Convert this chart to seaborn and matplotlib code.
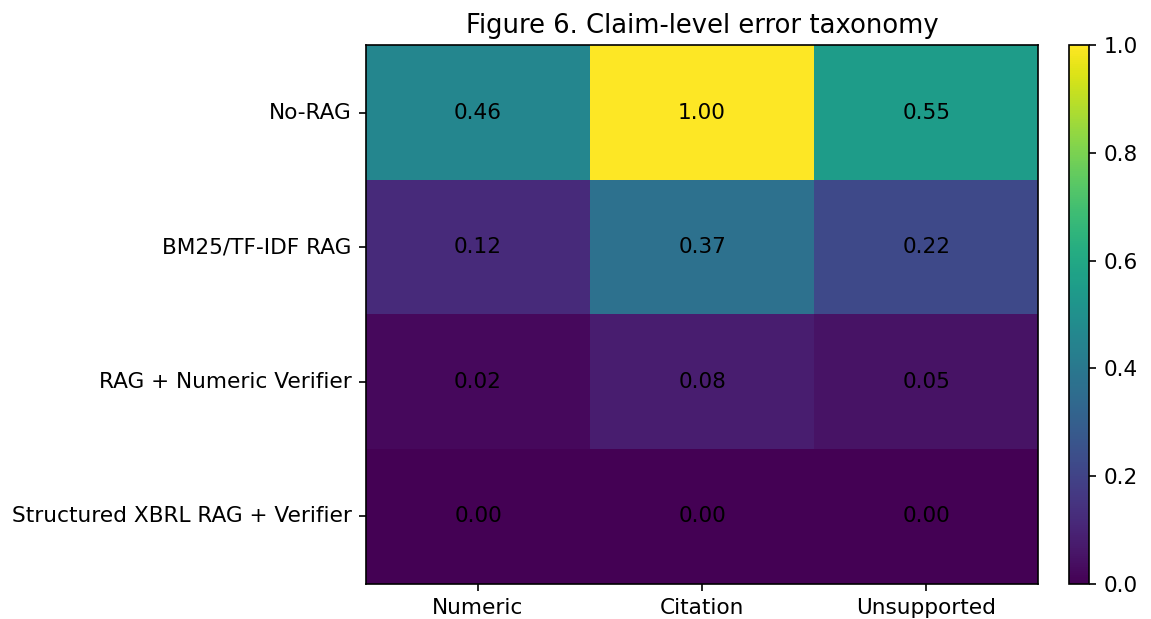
import numpy as np
import pandas as pd
import matplotlib
matplotlib.use("Agg")
import matplotlib.pyplot as plt
import seaborn as sns

systems = ["No-RAG", "BM25/TF-IDF RAG", "RAG + Numeric Verifier",
           "Structured XBRL RAG + Verifier"]
error_types = ["Numeric", "Citation", "Unsupported"]
numeric = [0.46, 0.12, 0.02, 0.00]
citation = [1.00, 0.37, 0.08, 0.00]
unsupported = [0.55, 0.22, 0.05, 0.00]

df = pd.DataFrame({"Numeric": numeric, "Citation": citation,
                   "Unsupported": unsupported}, index=systems)[error_types]

FS = 10.4

fig = plt.figure(figsize=(1151 / 150, 619 / 150), dpi=150)
ax = fig.add_axes([0.318, 0.057, 0.584, 0.870])
cax = fig.add_axes([0.929, 0.057, 0.0174, 0.870])

sns.heatmap(df, ax=ax, cbar_ax=cax, cmap="viridis", vmin=0, vmax=1,
            annot=True, fmt=".2f", annot_kws={"color": "black", "fontsize": FS})

ax.set_title("Figure 6. Claim-level error taxonomy", fontsize=12.45)
ax.set_xlabel("")
ax.set_ylabel("")
ax.tick_params(axis="both", length=3.5, width=0.8, labelsize=FS)
ax.set_yticklabels(systems, rotation=0)
ax.set_xticklabels(error_types, rotation=0)
for sp in ax.spines.values():
    sp.set_visible(True)
    sp.set_linewidth(0.8)
    sp.set_color("black")

cb = ax.collections[0].colorbar
cb.outline.set_linewidth(0.8)
cb.outline.set_visible(True)
cb.set_ticks([0.0, 0.2, 0.4, 0.6, 0.8, 1.0])
cb.ax.tick_params(labelsize=FS, length=3.5, width=0.8)

fig.savefig("out.png", dpi=150)
